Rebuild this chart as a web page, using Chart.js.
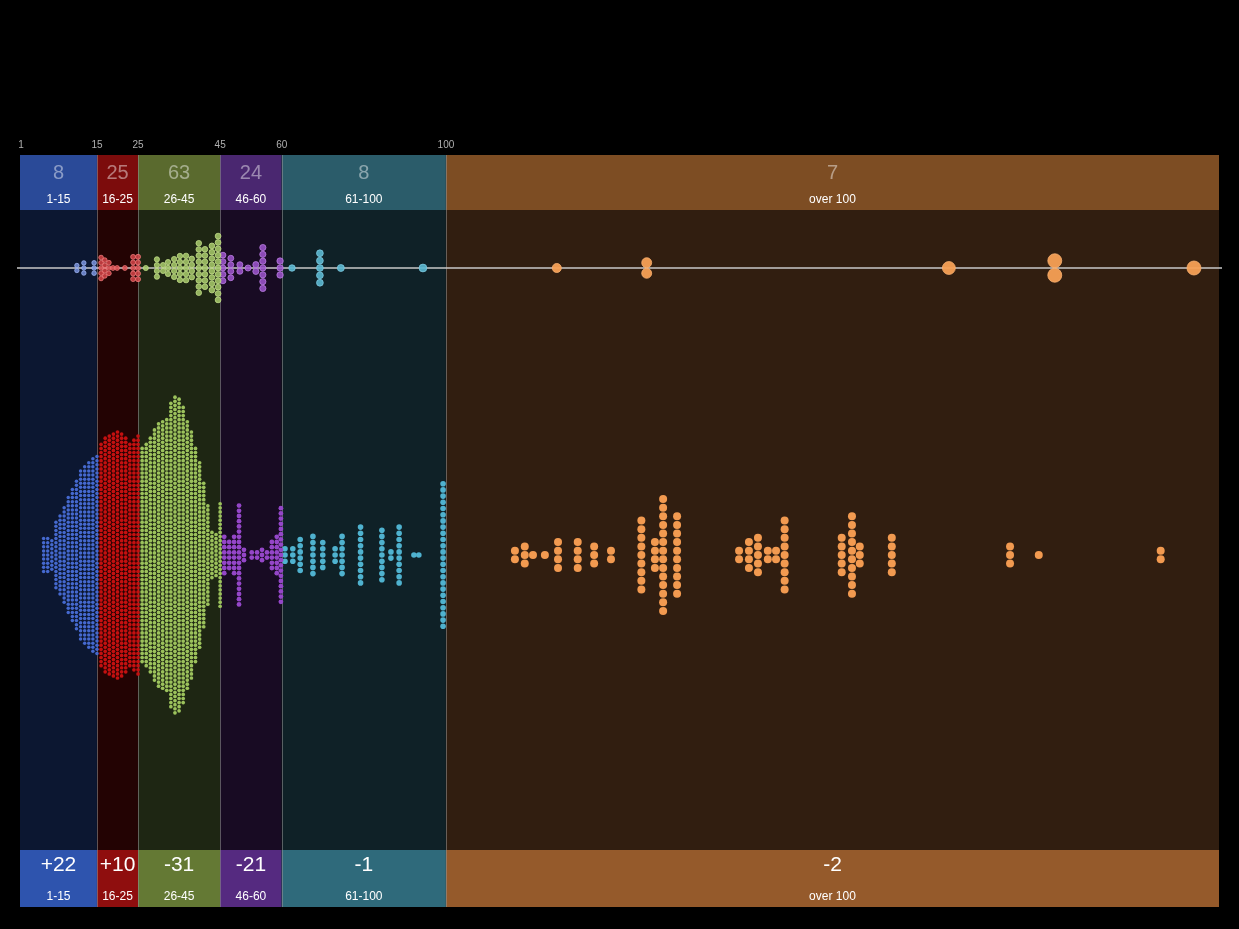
<!DOCTYPE html>
<html lang="en">
<head>
  <meta charset="utf-8"/>
  <title>Swarm by range</title>
  <script src="https://cdn.jsdelivr.net/npm/chart.js"></script>
  <style>
    html, body { margin: 0; padding: 0; background: #000; }
    canvas { display: block; }
  </style>
</head>
<body>
  <canvas id="swarm" width="1239" height="929"></canvas>

  <script>
  // ── DATA ─────────────────────────────────────────
  const bandEdges   = [15, 25, 45, 60, 100];
  const tickLabels  = ['1', '15', '25', '45', '60', '100'];
  const bandLabels  = ['1-15', '16-25', '26-45', '46-60', '61-100', 'over 100'];
  const bandCounts  = ['8', '25', '63', '24', '8', '7'];
  const bandChanges = ['+22', '+10', '-31', '-21', '-1', '-2'];

  // upper swarm: value of each column and how many dots it holds
  const topValues = [10.1, 11.8, 14.3,
    16.0, 16.9, 17.9, 18.9, 19.9, 21.8, 23.8, 25.0,
    26.9, 29.6, 31.1, 32.3, 33.8, 35.2, 36.7, 38.1, 39.8, 41.3, 43.0, 44.5,
    45.7, 47.6, 49.8, 51.8, 53.7, 55.4, 59.6,
    62.5, 69.3, 74.4, 94.4,
    127.0, 148.9, 222.5, 248.3, 282.2];
  const topCounts = [2, 3, 3,
    5, 4, 3, 1, 1, 1, 5, 5,
    1, 4, 2, 3, 4, 5, 5, 4, 9, 7, 8, 11,
    5, 4, 2, 1, 2, 7, 3,
    1, 5, 1, 1,
    1, 2, 1, 2, 1];

  // lower swarm
  const bottomValues = [2, 3, 4, 5, 6, 7, 8, 9, 10, 11, 12, 13, 14, 15,
    16, 17, 18, 19, 20, 21, 22, 23, 24, 25,
    26, 27, 28, 29, 30, 31, 32, 33, 34, 35, 36, 37, 38, 39, 40, 41, 42, 43, 44, 45,
    46.0, 47.2, 48.4, 49.6, 50.8, 52.7, 54.0, 55.2, 56.4, 57.6, 58.8, 59.8,
    60.8, 62.7, 64.5, 67.6, 70.0, 73.0, 74.7, 79.2, 84.4, 86.6, 88.6, 92.2, 93.4, 99.3,
    116.8, 119.2, 121.2, 124.1, 127.3, 132.1, 136.1, 140.2,
    147.6, 150.9, 152.9, 156.3,
    171.4, 173.8, 176.0, 178.4, 180.4, 182.5,
    196.4, 198.9, 200.8, 208.6, 237.4, 244.4, 274.1];
  const bottomCounts = [9, 9, 8, 17, 20, 24, 29, 33, 37, 42, 44, 46, 48, 49,
    55, 58, 59, 60, 61, 60, 58, 55, 57, 59,
    53, 55, 58, 62, 65, 66, 67, 75, 78, 77, 73, 66, 61, 53, 46, 36, 25, 12, 11, 26,
    8, 6, 8, 20, 3, 2, 2, 3, 2, 6, 8, 19,
    3, 3, 6, 7, 5, 3, 7, 10, 9, 2, 10, 1, 1, 24,
    2, 3, 1, 1, 4, 4, 3, 2,
    9, 4, 14, 10,
    2, 4, 5, 2, 2, 9,
    5, 10, 3, 5, 3, 1, 2];
  // ─────────────────────────────────────────────────

  // ── STYLE ────────────────────────────────────────
  const xMin = -3.75, xMax = 288.3;
  const topBase = 639, bottomBase = 352;   // y units = px from chart bottom
  const headH = 55, footH = 57;
  const headColors = ['#2a4a98', '#7c0c0c', '#5a6a2e', '#4a2770', '#2b5c6a', '#7d4d23'];
  const bodyColors = ['#0c1731', '#230303', '#1e2613', '#180b23', '#0f2127', '#311e10'];
  const footColors = ['#2e54ae', '#8f0e0e', '#647934', '#552a80', '#2f6a7b', '#955a2b'];
  const dotTop     = ['rgba(125,151,230,0.8)', 'rgba(224,72,76,0.8)', 'rgba(169,204,108,0.85)',
                      'rgba(160,86,208,0.85)', 'rgba(90,184,210,0.9)', 'rgba(247,160,85,0.95)'];
  const dotTopLine = ['#9db2f0', '#f07a7a', '#c0dc88', '#b97ce0', '#7cc8de', '#f9b070'];
  const dotBottom  = ['#4569cf', '#c41010', '#9cc25c', '#9446c8', '#4fb2cf', '#f29a50'];
  const bottomR    = [1.75, 1.85, 1.85, 2.4, 2.8, 4.0];
  const bottomStep = [4.1, 4.1, 4.1, 5.2, 6.2, 8.6];
  const font = "'Liberation Sans', Arial, sans-serif";

  function bandOf(v) {
    for (let i = 0; i < bandEdges.length; i++) if (v <= bandEdges[i]) return i;
    return bandEdges.length;
  }
  function topRadius(v) { return Math.min(7, 2 + v * 0.02); }

  // stack each column symmetrically round its baseline
  const topPts = bandLabels.map(() => []);
  topValues.forEach((v, i) => {
    const b = bandOf(v), step = 2 * topRadius(v) + 0.6, n = topCounts[i];
    for (let k = 0; k < n; k++) topPts[b].push({ x: v, y: topBase - (k - (n - 1) / 2) * step });
  });
  const bottomPts = bandLabels.map(() => []);
  bottomValues.forEach((v, i) => {
    const b = bandOf(v), step = bottomStep[b], n = bottomCounts[i];
    for (let k = 0; k < n; k++) bottomPts[b].push({ x: v, y: bottomBase - (k - (n - 1) / 2) * step });
  });

  const datasets = [];
  bandLabels.forEach((lab, b) => {
    datasets.push({
      label: lab + ' lower', data: bottomPts[b],
      pointRadius: bottomR[b], pointBackgroundColor: dotBottom[b],
      pointBorderWidth: 0, pointHoverRadius: bottomR[b]
    });
  });
  bandLabels.forEach((lab, b) => {
    datasets.push({
      label: lab + ' upper', data: topPts[b],
      pointRadius: c => topRadius(c.raw.x),
      pointBackgroundColor: dotTop[b], pointBorderColor: dotTopLine[b],
      pointBorderWidth: 0.8
    });
  });

  const bandPlugin = {
    id: 'bands',
    beforeDatasetsDraw(chart) {
      const { ctx, chartArea: a, scales: { x, y } } = chart;
      const lefts = [x.min, ...bandEdges], rights = [...bandEdges, x.max];
      ctx.save();
      ctx.textAlign = 'center';
      ctx.textBaseline = 'middle';
      lefts.forEach((l, i) => {
        const x0 = x.getPixelForValue(l), x1 = x.getPixelForValue(rights[i]), cx = (x0 + x1) / 2;
        ctx.fillStyle = bodyColors[i]; ctx.fillRect(x0, a.top, x1 - x0, a.bottom - a.top);
        ctx.fillStyle = headColors[i]; ctx.fillRect(x0, a.top, x1 - x0, headH);
        ctx.fillStyle = footColors[i]; ctx.fillRect(x0, a.bottom - footH, x1 - x0, footH);

        ctx.fillStyle = 'rgba(255,255,255,0.45)';
        ctx.font = '20px ' + font;
        ctx.fillText(bandCounts[i], cx, a.top + 18);
        ctx.fillStyle = '#fff';
        ctx.font = '12px ' + font;
        ctx.fillText(bandLabels[i], cx, a.top + 45);

        ctx.font = '21px ' + font;
        ctx.fillText(bandChanges[i], cx, a.bottom - 42);
        ctx.font = '12px ' + font;
        ctx.fillText(bandLabels[i], cx, a.bottom - 10);

        ctx.fillStyle = '#b0b0b0';
        ctx.font = '10px ' + font;
        ctx.fillText(tickLabels[i], x0 + (i === 0 ? 1 : 0), a.top - 10);
      });
      // separators
      ctx.strokeStyle = 'rgba(150,150,150,0.55)';
      ctx.lineWidth = 1;
      bandEdges.forEach(e => {
        const px = Math.round(x.getPixelForValue(e)) + 0.5;
        ctx.beginPath(); ctx.moveTo(px, a.top); ctx.lineTo(px, a.bottom); ctx.stroke();
      });
      // baseline of the upper swarm
      const by = y.getPixelForValue(topBase);
      ctx.strokeStyle = '#c8c8c8';
      ctx.lineWidth = 1.4;
      ctx.beginPath(); ctx.moveTo(a.left - 3, by); ctx.lineTo(a.right + 3, by); ctx.stroke();
      ctx.restore();
    }
  };

  new Chart(document.getElementById('swarm').getContext('2d'), {
    type: 'scatter',
    data: { datasets },
    options: {
      responsive: false,
      animation: false,
      devicePixelRatio: 1,
      layout: { padding: { left: 20, top: 155, right: 20, bottom: 22 } },
      plugins: { legend: { display: false }, tooltip: { enabled: false } },
      scales: {
        x: { type: 'linear', min: xMin, max: xMax, display: false },
        y: { type: 'linear', min: 0, max: 752, display: false }
      }
    },
    plugins: [bandPlugin]
  });
  </script>
</body>
</html>
